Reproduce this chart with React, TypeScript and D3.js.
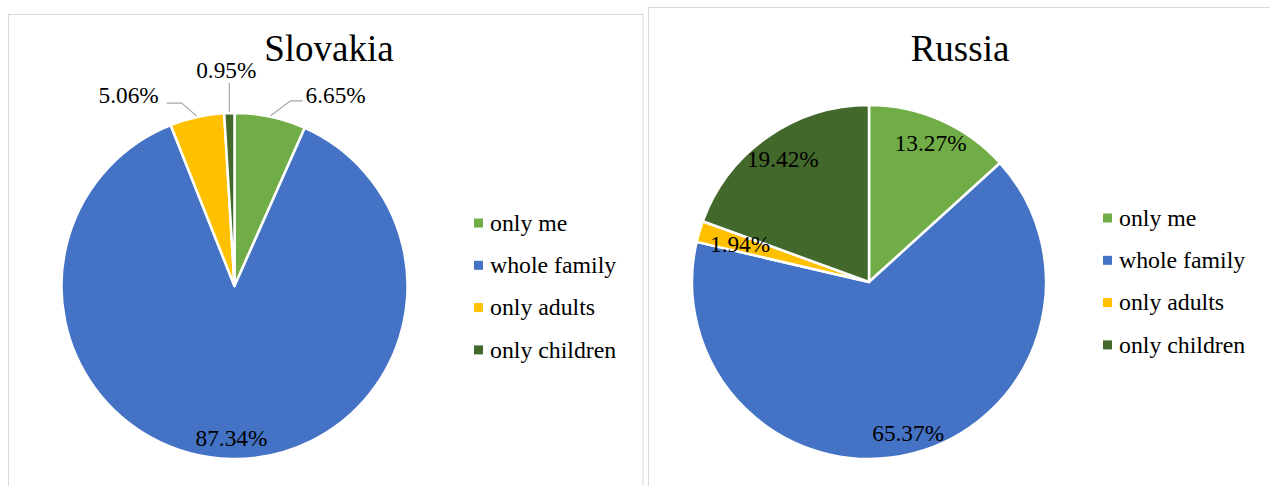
import React from "react";
import * as d3 from "d3";

const categories = ["only me", "whole family", "only adults", "only children"];
const slovakiaValues = [6.65, 87.34, 5.06, 0.95];
const russiaValues = [13.27, 65.37, 1.94, 19.42];
const colors = ["#70AD47", "#4472C4", "#FFC000", "#43682B"];
const titles = ["Slovakia", "Russia"];

const FONT = "'Liberation Serif', 'Times New Roman', serif";

type LabelCfg =
  | { kind: "in"; f: number }
  | { kind: "out"; ex: number; ey: number; hx: number; tx: number; ty: number; anchor: string };

const panels = [
  {
    title: titles[0],
    values: slovakiaValues,
    box: { x: 8.5, y: 14.5, w: 634.5 },
    cx: 234.5, cy: 286, r: 173,
    titleX: 329,
    legendX: 474, legendY: 223,
    labels: [
      { kind: "out", ex: 20, ey: -15, hx: 12, tx: 3, ty: 2, anchor: "start" },
      { kind: "in", f: 0.88 },
      { kind: "out", ex: -15, ey: -13, hx: -15, tx: -8, ty: 0, anchor: "end" },
      { kind: "out", ex: 0, ey: -29, hx: 0, tx: -3, ty: -5, anchor: "middle" },
    ] as LabelCfg[],
  },
  {
    title: titles[1],
    values: russiaValues,
    box: { x: 648.5, y: 7.5, w: 640 },
    cx: 869, cy: 282, r: 177,
    titleX: 960,
    legendX: 1103, legendY: 218,
    labels: [
      { kind: "in", f: 0.86 },
      { kind: "in", f: 0.88 },
      { kind: "in", f: 0.76 },
      { kind: "in", f: 0.85 },
    ] as LabelCfg[],
  },
];

function Pie({ p }: { p: (typeof panels)[number] }) {
  const pie = d3.pie<number>().sort(null).value((d) => d);
  const arcs = pie(p.values);
  const arc = d3.arc<d3.PieArcDatum<number>>().innerRadius(0).outerRadius(p.r);
  return (
    <g>
      <rect x={p.box.x} y={p.box.y} width={p.box.w} height={600} fill="#fff" stroke="#d9d9d9" strokeWidth={1} />
      <text x={p.titleX} y={61} textAnchor="middle" fontSize={37} fontFamily={FONT} fill="#000">
        {p.title}
      </text>
      <g transform={`translate(${p.cx},${p.cy})`}>
        {arcs.map((a, i) => (
          <path key={i} d={arc(a) || ""} fill={colors[i]} stroke="#fff" strokeWidth={2.5} strokeLinejoin="round" />
        ))}
        {arcs.map((a, i) => {
          const cfg = p.labels[i];
          const mid = (a.startAngle + a.endAngle) / 2;
          const txt = p.values[i].toFixed(2) + "%";
          if (cfg.kind === "in") {
            const rr = p.r * cfg.f;
            return (
              <text key={"l" + i} x={Math.sin(mid) * rr} y={-Math.cos(mid) * rr} dy="0.35em" textAnchor="middle" fontSize={23.3} fontFamily={FONT} fill="#000">
                {txt}
              </text>
            );
          }
          const sx = Math.sin(mid) * (p.r + 1);
          const sy = -Math.cos(mid) * (p.r + 1);
          const ex = sx + cfg.ex;
          const ey = sy + cfg.ey;
          const hx = ex + cfg.hx;
          return (
            <g key={"l" + i}>
              <polyline points={`${sx},${sy} ${ex},${ey} ${hx},${ey}`} fill="none" stroke="#a6a6a6" strokeWidth={1.2} />
              <text x={hx + cfg.tx} y={ey + cfg.ty} textAnchor={cfg.anchor} fontSize={23.3} fontFamily={FONT} fill="#000">
                {txt}
              </text>
            </g>
          );
        })}
      </g>
      <g>
        {categories.map((c, i) => (
          <g key={c} transform={`translate(${p.legendX},${p.legendY + i * 42.3})`}>
            <rect x={0} y={-4.5} width={9} height={9} fill={colors[i]} />
            <text x={16} y={0} dy="0.33em" fontSize={23.8} fontFamily={FONT} fill="#000">
              {c}
            </text>
          </g>
        ))}
      </g>
    </g>
  );
}

export default function App() {
  return (
    <svg
      width={1270}
      height={486}
      style={{ position: "absolute", left: 0, top: 0, background: "#fff" }}
    >
      <rect x={0} y={0} width={1270} height={486} fill="#fff" />
      {panels.map((p) => (
        <Pie key={p.title} p={p} />
      ))}
    </svg>
  );
}
